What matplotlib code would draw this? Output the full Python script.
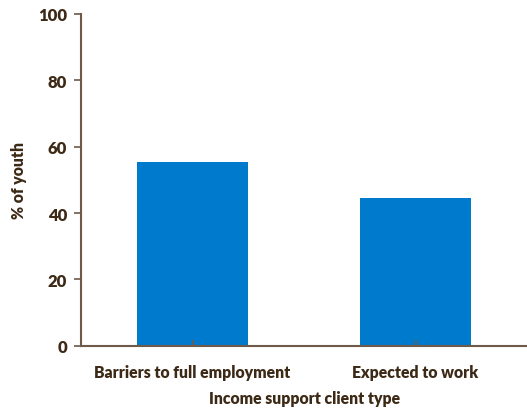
import matplotlib.pyplot as plt

# client types and share of youth
categories = ['Barriers to full employment', 'Expected to work']
values = [55.4, 44.6]

text_color = '#3d2a16'
axis_color = '#6e5a48'
bar_color = '#007acc'

plt.rcParams['font.family'] = ['Lato', 'DejaVu Sans']
plt.rcParams['font.weight'] = 'heavy'

fig = plt.figure(figsize=(5.27, 4.10), dpi=100)
ax = fig.add_axes([0.154, 0.154, 0.846, 0.81])

ax.bar(range(len(categories)), values, width=0.5, color=bar_color)

ax.set_xlim(-0.5, 1.5)
ax.set_ylim(0, 100)
ax.set_yticks([0, 20, 40, 60, 80, 100])
ax.set_xticks(range(len(categories)))
ax.set_xticklabels(categories)

for s in ['top', 'right']:
    ax.spines[s].set_visible(False)
for s in ['left', 'bottom']:
    ax.spines[s].set_color(axis_color)
    ax.spines[s].set_linewidth(1.5)

ax.tick_params(axis='y', colors=axis_color, labelcolor=text_color, labelsize=12, length=5, width=1.2, pad=5)
ax.tick_params(axis='x', colors=axis_color, labelcolor=text_color, labelsize=11.3, length=4, width=1.2, direction='in', pad=13)

ax.set_ylabel('% of youth', color=text_color, fontsize=11.3, fontweight='heavy', labelpad=8)
ax.set_xlabel('Income support client type', color=text_color, fontsize=11.3, fontweight='heavy', labelpad=7)

fig.savefig('out.png', dpi=100)
